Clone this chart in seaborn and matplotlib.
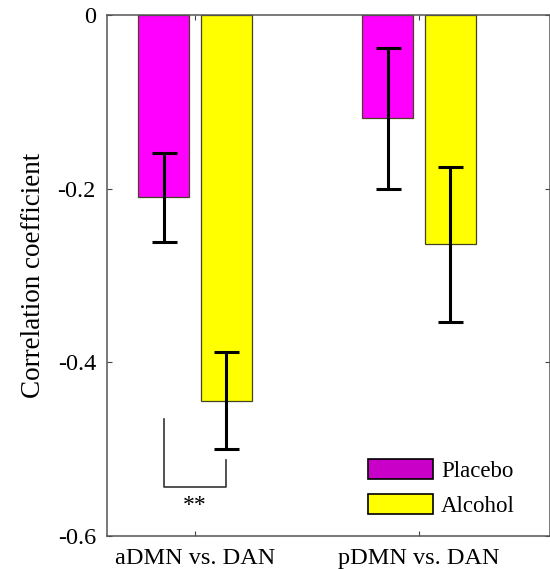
import numpy as np
import pandas as pd
import seaborn as sns
import matplotlib.pyplot as plt
from matplotlib.patches import Patch

# values
comparisons = ["aDMN vs. DAN", "pDMN vs. DAN"]
conditions = ["Placebo", "Alcohol"]
placebo_mean = [-0.210, -0.119]
alcohol_mean = [-0.444, -0.264]
placebo_err = [0.051, 0.081]
alcohol_err = [0.056, 0.089]
yticks = [0, -0.2, -0.4, -0.6]
ytick_labels = ["0", "-0.2", "-0.4", "-0.6"]
# significance bracket (aDMN placebo vs alcohol)
bracket_left_top = -0.465
bracket_right_top = -0.513
bracket_bottom = -0.544
star_y = -0.553

bar_colors = {"Placebo": "#ff00ff", "Alcohol": "#ffff00"}
legend_colors = {"Placebo": "#c800c8", "Alcohol": "#ffff00"}

df = pd.DataFrame({
    "comparison": comparisons * 2,
    "condition": ["Placebo"] * 2 + ["Alcohol"] * 2,
    "r": placebo_mean + alcohol_mean,
    "err": placebo_err + alcohol_err,
})

plt.rcParams["font.family"] = ["Liberation Serif", "DejaVu Serif"]
plt.rcParams["axes.unicode_minus"] = False

fig = plt.figure(figsize=(5.5, 5.69), dpi=100)
ax = fig.add_axes([107 / 550, 1 - 536 / 569, 443 / 550, 521 / 569])

sns.barplot(data=df, x="comparison", y="r", hue="condition",
            hue_order=conditions, palette=bar_colors, saturation=1,
            width=0.56, gap=0.186, errorbar=None, edgecolor="#444422",
            linewidth=0.9, legend=False, ax=ax)

# error bars at the centres of the drawn bars
for cont, cond in zip(ax.containers, conditions):
    sub = df[df["condition"] == cond].set_index("comparison").loc[comparisons]
    xs = [p.get_x() + p.get_width() / 2 for p in cont.patches]
    ax.errorbar(xs, sub["r"], yerr=sub["err"], fmt="none", ecolor="black",
                elinewidth=2.2, capsize=9, capthick=2.2, zorder=5)

# significance bracket between the two aDMN bars
x_pl = ax.containers[0].patches[0]
x_al = ax.containers[1].patches[0]
xl = x_pl.get_x() + x_pl.get_width() / 2
xr = x_al.get_x() + x_al.get_width() / 2
ax.plot([xl, xl, xr, xr],
        [bracket_left_top, bracket_bottom, bracket_bottom, bracket_right_top],
        color="#333333", lw=1.2)
ax.text((xl + xr) / 2, star_y, "**", ha="center", va="top", fontsize=17)

ax.set_xlim(-88 / 224, 1 + 131 / 224)
ax.set_ylim(-0.6, 0)
ax.set_yticks(yticks)
ax.set_yticklabels(ytick_labels)
ax.set_xlabel("")
ax.set_ylabel("Correlation coefficient", fontsize=19.5, labelpad=8)
ax.tick_params(direction="in", length=3.5, width=0.8, top=True, right=True,
               labelsize=17.5, color="#444444")
ax.tick_params(axis="y", pad=8)
ax.tick_params(axis="x", pad=8.5)
for s in ax.spines.values():
    s.set_color("#555555")
    s.set_linewidth(1.1)

handles = [Patch(facecolor=legend_colors[c], edgecolor="black", linewidth=1.2)
           for c in conditions]
ax.legend(handles, conditions, loc="lower left",
          bbox_to_anchor=(368 / 550, 1 - 517 / 569),
          bbox_transform=fig.transFigure, frameon=False, fontsize=16.5,
          handlelength=2.84, handleheight=0.92, handletextpad=0.35,
          labelspacing=0.55, borderpad=0, borderaxespad=0)

fig.savefig("out.png", dpi=100)
